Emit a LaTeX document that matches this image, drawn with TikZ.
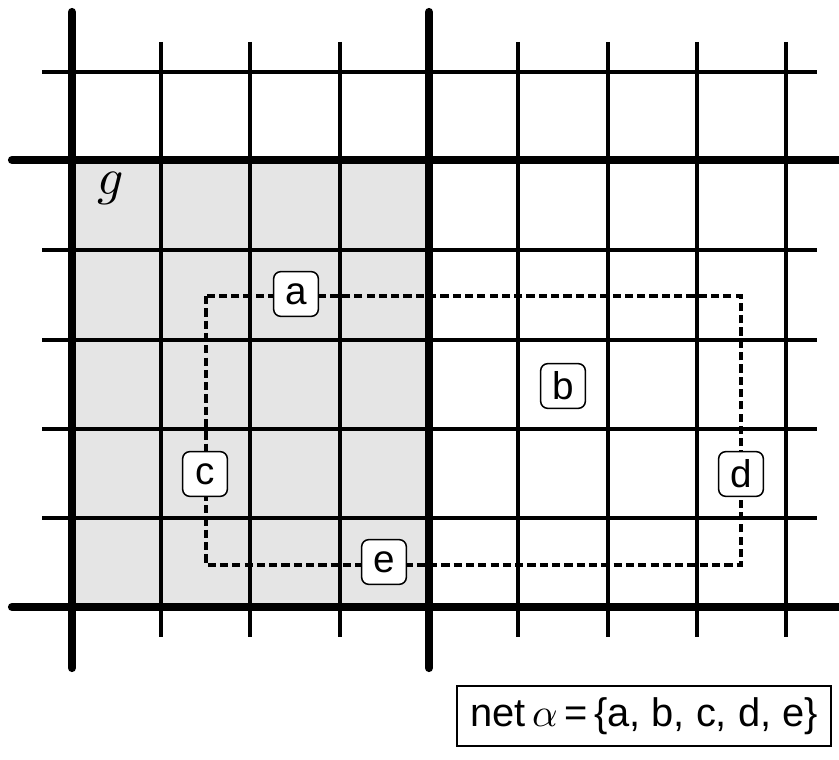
\documentclass[tikz,border=0pt]{standalone}
\usepackage{fontspec}
\usepackage{unicode-math}
\setmainfont{Liberation Sans}
\setmathfont{Latin Modern Math}
\begin{document}
\begin{tikzpicture}[x=0.03cm, y=-0.03cm, every node/.style={font=\fontsize{33}{36}\selectfont},
  thinline/.style={line width=2.9pt},
  thickline/.style={line width=7pt, line cap=round},
  pin/.style={draw, line width=1.3pt, fill=white, rounded corners=6pt, minimum size=1.34cm, inner sep=0pt}]
\useasboundingbox (0,0) rectangle (839,760);
% global cell g
\fill[black!10] (72,160) rectangle (429,607);
% routing grid
\foreach \y in {72,250,340,429,518}
  \draw[thinline] (42,\y) -- (817,\y);
\foreach \x in {161,250,340,518,608,697,786}
  \draw[thinline] (\x,42) -- (\x,637);
\draw[thickline] (72,12) -- (72,668);
\draw[thickline] (429,12) -- (429,668);
\draw[thickline] (12,160) -- (850,160);
\draw[thickline] (12,607) -- (850,607);
\node[font=\fontsize{44}{46}\selectfont] (g) at (110,188) {$g$};
% bounding box of the net
\draw[line width=2.6pt, dash pattern=on 7pt off 3.5pt] (206,296) rectangle (741,565);
\node[pin] (a) at (296,294) {a};
\node[pin] (b) at (563,386) {b};
\node[pin] (c) at (205,474) {c};
\node[pin] (d) at (741,474) {d};
\node[pin] (e) at (384,562) {e};
\node[draw, line width=1.8pt, minimum width=11.2cm, minimum height=1.8cm, inner sep=0pt,
  font=\fontsize{34}{36}\selectfont] (net) at (644,716) {net\,$\alpha$\,=\,\{a, b, c, d, e\}};
\end{tikzpicture}
\end{document}
